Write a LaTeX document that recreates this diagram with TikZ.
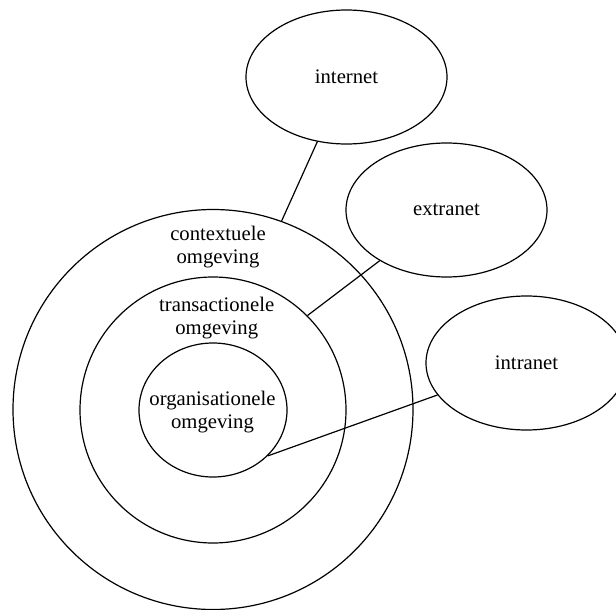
\documentclass[tikz,border=0pt]{standalone}
\usepackage{fontspec}
\setmainfont{Liberation Serif}
\usetikzlibrary{shapes.geometric}
\begin{document}
\begin{tikzpicture}[x=1pt,y=-1pt,
  ring/.style={draw, circle, line width=1.2pt, inner sep=0pt},
  core/.style={draw, ellipse, line width=1.2pt, inner sep=0pt,
    minimum width=148pt, minimum height=134pt},
  net/.style={draw, ellipse, line width=1.2pt, inner sep=0pt,
    minimum width=201pt, minimum height=134pt,
    font=\fontsize{20.7}{23}\selectfont},
  lbl/.style={align=center, inner sep=0pt, font=\fontsize{20.7}{23}\selectfont},
  link/.style={line width=1.2pt}]
\useasboundingbox (0,0) rectangle (616,610);

% nested environments
\node[ring, minimum size=400pt] (outer) at (213,409.5) {};
\node[ring, minimum size=266pt] (middle) at (213,410) {};
\node[core] (inner) at (213,410) {};

\node[lbl] (ctxlbl) at (218,246.7) {contextuele\\omgeving};
\node[lbl] (trnlbl) at (216.7,317.7) {transactionele\\omgeving};
\node[lbl] (orglbl) at (212.5,412.4) {organisationele\\omgeving};

% networks
\node[net] (internet) at (346.5,77) {internet};
\node[net] (extranet) at (446.5,210) {extranet};
\node[net] (intranet) at (526.5,363) {intranet};

% connections
\draw[link] (internet) -- (outer.70);
\draw[link] (extranet) -- (middle.45);
\draw[link] (intranet) -- (inner.-40);
\end{tikzpicture}
\end{document}
